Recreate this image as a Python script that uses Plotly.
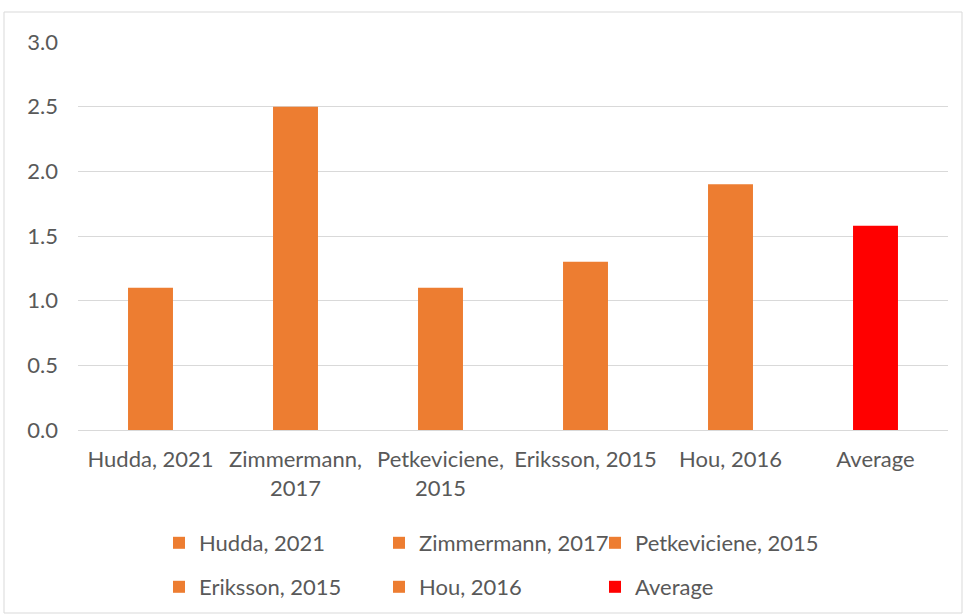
import plotly.graph_objects as go

categories = ["Hudda, 2021", "Zimmermann, 2017", "Petkeviciene, 2015", "Eriksson, 2015", "Hou, 2016", "Average"]
tick_labels = ["Hudda, 2021", "Zimmermann,<br>2017", "Petkeviciene,<br>2015", "Eriksson, 2015", "Hou, 2016", "Average"]
values = [1.1, 2.5, 1.1, 1.3, 1.9, 1.58]
colors = ["#ED7D31", "#ED7D31", "#ED7D31", "#ED7D31", "#ED7D31", "#FF0000"]
legend_ids = ["legend", "legend2", "legend3", "legend4", "legend5", "legend6"]

fig = go.Figure()
for cat, lab, v, c, lg in zip(categories, tick_labels, values, colors, legend_ids):
    fig.add_trace(go.Bar(x=[lab], y=[v], name=cat, legend=lg, showlegend=True,
                         marker=dict(color=c, line=dict(width=0)), width=0.31))

font_family = "Lato, 'Open Sans', sans-serif"
FS = 22
W, H = 964, 614
L, R, T, B = 78, 16, 42, 184
pw, ph = W - L - R, H - T - B

def py(ypix):
    return (T + ph - ypix) / ph

def px(xpix):
    return (xpix - L) / pw

legend_common = dict(orientation="h", xanchor="left", yanchor="middle", visible=True,
                     font=dict(size=FS, color="#595959", family=font_family),
                     bgcolor="rgba(0,0,0,0)")
leg_x = [159, 379, 595, 159, 379, 595]
leg_y = [543, 543, 543, 587, 587, 587]
legends = {lg: dict(x=px(x), y=py(y), **legend_common) for lg, x, y in zip(legend_ids, leg_x, leg_y)}

fig.update_layout(
    width=W, height=H,
    showlegend=True,
    barmode="overlay",
    plot_bgcolor="white", paper_bgcolor="white",
    margin=dict(l=L, r=R, t=T, b=B, autoexpand=False),
    font=dict(family=font_family, size=FS, color="#595959"),
    xaxis=dict(categoryorder="array", categoryarray=tick_labels, showline=True, linecolor="#d9d9d9", linewidth=1,
               ticks="", ticklabelstandoff=10, tickfont=dict(size=FS, color="#595959")),
    yaxis=dict(range=[0, 3.0], dtick=0.5, tickformat=".1f", showgrid=True, gridcolor="#d9d9d9", gridwidth=1,
               zeroline=False, ticks="", ticklabelstandoff=19, tickfont=dict(size=FS, color="#595959")),
    shapes=[dict(type="rect", xref="paper", yref="paper",
                 x0=px(4), x1=px(962), y0=py(613), y1=py(12),
                 line=dict(color="#d9d9d9", width=1), fillcolor="rgba(0,0,0,0)", layer="below")],
    **legends,
)

fig.write_html("out.html", config={"displayModeBar": False},
               post_script="document.body.style.margin='0';document.body.style.overflow='hidden';")
